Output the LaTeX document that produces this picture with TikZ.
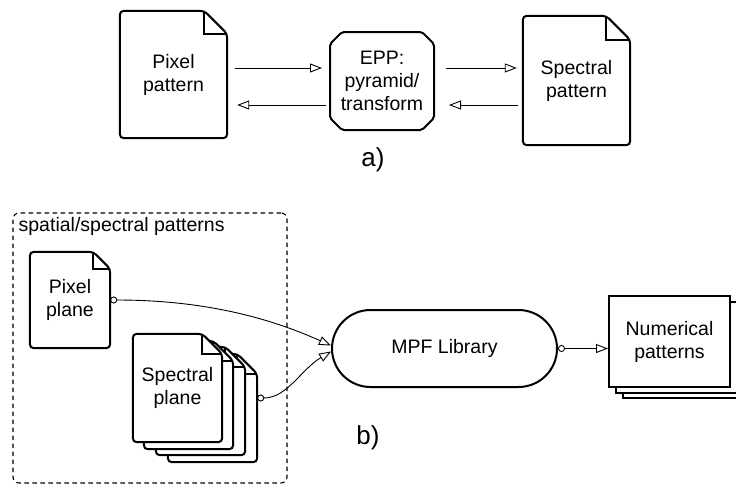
\documentclass[tikz,border=0pt]{standalone}
\usepackage{fontspec}
\setmainfont{Liberation Sans}
\usetikzlibrary{arrows.meta,shapes.misc,shadows,backgrounds}

\tikzset{
  txt/.style={inner sep=0pt, align=center, font=\fontsize{19.5}{23}\selectfont},
  flow/.style={-{Triangle[open,length=12pt,width=9pt]}, line width=0.9pt},
  tap/.style={{Circle[open,length=7pt]}-{Triangle[open,length=12pt,width=9pt]}, line width=0.9pt},
}

% outline of a page with folded corner: node, fold, dx, dy
\newcommand{\pageoutline}[4]{%
  \draw[line width=2pt, fill=white, rounded corners=4pt]
    ([shift={(#3,#4)}]#1.north west) -- ([shift={(#3-#2,#4)}]#1.north east)
    -- ([shift={(#3,#4+#2)}]#1.north east) -- ([shift={(#3,#4)}]#1.south east)
    -- ([shift={(#3,#4)}]#1.south west) -- cycle;
  \draw[line width=2pt]
    ([shift={(#3-#2,#4)}]#1.north east) -- ([shift={(#3-#2,#4+#2)}]#1.north east)
    -- ([shift={(#3,#4+#2)}]#1.north east);
}

\begin{document}
\begin{tikzpicture}[x=1pt, y=-1pt]
  \useasboundingbox (0,0) rectangle (736,485);

  % a) pattern conversion
  \node[txt, minimum width=107, minimum height=127] (ppat) at (173.5,74.5) {Pixel\\pattern};
  \node[txt, draw, line width=2pt, rounded corners=2pt, chamfered rectangle, chamfered rectangle xsep=6pt,
        chamfered rectangle ysep=6pt, minimum width=104, minimum height=98] (epp) at (382,81) {EPP:\\pyramid/\\transform};
  \node[txt, minimum width=107, minimum height=129] (spat) at (576.5,80.5) {Spectral\\pattern};
  \begin{scope}[on background layer]
    \pageoutline{ppat}{23}{0}{0}
    \pageoutline{spat}{24}{0}{0}
  \end{scope}

  \coordinate (rowA) at (0,68);
  \coordinate (rowB) at (0,105);
  \draw[flow] ([xshift=8pt]ppat.east |- rowA) -- ([xshift=-7pt]epp.west |- rowA);
  \draw[flow] ([xshift=-3pt]epp.west |- rowB) -- ([xshift=10pt]ppat.east |- rowB);
  \draw[flow] ([xshift=11pt]epp.east |- rowA) -- ([xshift=-6pt]spat.west |- rowA);
  \draw[flow] ([xshift=-5pt]spat.west |- rowB) -- ([xshift=14pt]epp.east |- rowB);

  \node[font=\fontsize{26}{28}\selectfont] (lbla) at (373,160) {a)};

  % b) MPF library
  \node[draw, dashed, dash pattern=on 4.5pt off 3.5pt, line width=1.1pt, rounded corners=6pt,
        minimum width=274, minimum height=270] (grp) at (150,348) {};
  \node[txt, anchor=west] (grplbl) at ([shift={(6,14)}]grp.north west) {spatial/spectral patterns};

  \node[txt, minimum width=80, minimum height=96] (ppl) at (70,300) {Pixel\\plane};
  \node[txt, minimum width=89, minimum height=108] (spl) at (177.5,388) {Spectral\\plane};
  \begin{scope}[on background layer]
    \pageoutline{ppl}{17}{0}{0}
    \pageoutline{spl}{20}{35}{20}
    \pageoutline{spl}{20}{23}{13}
    \pageoutline{spl}{20}{11}{7}
    \pageoutline{spl}{20}{0}{0}
  \end{scope}

  \node[txt, draw, line width=2pt, rounded rectangle, minimum width=225, minimum height=77] (mpf) at (444.5,348.5) {MPF Library};
  \node[txt, draw, line width=2pt, fill=white, minimum width=121, minimum height=91,
        double copy shadow={shadow xshift=7pt, shadow yshift=-5.5pt, draw, line width=2pt}] (num) at (669.5,341.5) {Numerical\\patterns};

  \coordinate (splout) at ([shift={(35,10)}]spl.east);
  \draw[tap] (ppl.east) .. controls +(110,0) and +(-45,-20) .. ([yshift=3pt]mpf.west);
  \draw[tap] (splout) .. controls +(30,0) and +(-30,18) .. ([yshift=-3pt]mpf.west);
  \draw[tap] (mpf.east) -- (num.west |- mpf.east);

  \node[font=\fontsize{26}{28}\selectfont] (lblb) at (368,438) {b)};

\end{tikzpicture}
\end{document}
